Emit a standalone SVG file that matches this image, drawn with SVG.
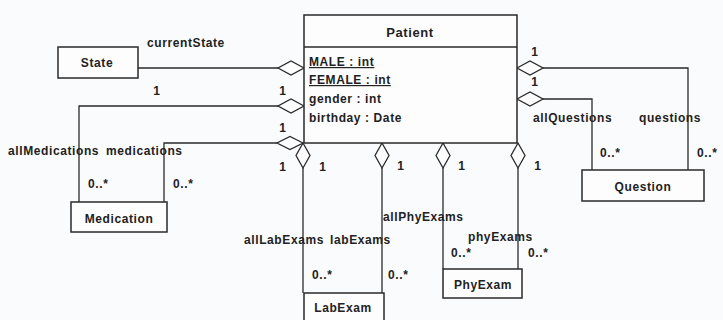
<svg xmlns="http://www.w3.org/2000/svg" width="723" height="320" viewBox="0 0 723 320">
<style>
text{font-family:"Liberation Sans",Arial,sans-serif;font-size:12px;font-weight:bold;fill:#222;letter-spacing:0.6px}
.box{fill:#fdfdfe;stroke:#2a2a2a;stroke-width:1.5}
.ln{fill:none;stroke:#2a2a2a;stroke-width:1.3}
.dia{fill:#fdfdfe;stroke:#2a2a2a;stroke-width:1.3}
.c{text-anchor:middle}
</style>
<rect width="723" height="320" fill="#fafbfc"/>
<g id="connectors">
<path class="ln" d="M138,68 H278"/>
<path class="ln" d="M278,106 H79 V202"/>
<path class="ln" d="M277,143 H164 V202"/>
<path class="ln" d="M303,168 V293"/>
<path class="ln" d="M382,168 V293"/>
<path class="ln" d="M443,168 V269"/>
<path class="ln" d="M518,168 V269"/>
<path class="ln" d="M543,68 H688 V170"/>
<path class="ln" d="M543,99 H592 V170"/>
<polygon class="dia" points="304,68 291,61 278,68 291,75"/>
<polygon class="dia" points="304,106 291,99 278,106 291,113"/>
<polygon class="dia" points="303,143 290,136.5 277,143 290,149.5"/>
<polygon class="dia" points="517,68 530,61 543,68 530,75"/>
<polygon class="dia" points="517,99 530,92 543,99 530,106"/>
<polygon class="dia" points="303,143 310,155.5 303,168 296,155.5"/>
<polygon class="dia" points="382,143 389,155.5 382,168 375,155.5"/>
<polygon class="dia" points="443,143 450,155.5 443,168 436,155.5"/>
<polygon class="dia" points="518,143 525,155.5 518,168 511,155.5"/>
<text x="147" y="47">currentState</text>
<text x="157" y="95" class="c">1</text>
<text x="283" y="95" class="c">1</text>
<text x="283" y="132" class="c">1</text>
<text x="8" y="155">allMedications</text>
<text x="106" y="155">medications</text>
<text x="88" y="188">0..*</text>
<text x="173" y="188">0..*</text>
<text x="283" y="171" class="c">1</text>
<text x="323" y="171" class="c">1</text>
<text x="401" y="170" class="c">1</text>
<text x="462" y="170" class="c">1</text>
<text x="538" y="170" class="c">1</text>
<text x="244" y="244">allLabExams</text>
<text x="330" y="244">labExams</text>
<text x="383" y="221">allPhyExams</text>
<text x="468" y="241">phyExams</text>
<text x="312" y="279">0..*</text>
<text x="388" y="279">0..*</text>
<text x="451" y="257">0..*</text>
<text x="528" y="257">0..*</text>
<text x="535" y="56" class="c">1</text>
<text x="535" y="86" class="c">1</text>
<text x="533" y="122">allQuestions</text>
<text x="639" y="122">questions</text>
<text x="600" y="157">0..*</text>
<text x="697" y="157">0..*</text>
</g>
<g id="Patient">
<rect class="box" x="304" y="15" width="213" height="128"/>
<line class="ln" x1="304" y1="47" x2="517" y2="47"/>
<text x="410" y="37" class="c" style="font-size:13px">Patient</text>
<text x="309" y="66" text-decoration="underline">MALE : int</text>
<text x="309" y="84" text-decoration="underline">FEMALE : int</text>
<text x="309" y="103">gender : int</text>
<text x="309" y="122">birthday : Date</text>
</g>
<g id="State">
<rect class="box" x="58" y="47" width="80" height="31"/>
<text x="97" y="67" class="c">State</text>
</g>
<g id="Medication">
<rect class="box" x="71" y="202" width="96" height="30"/>
<text x="119" y="223" class="c">Medication</text>
</g>
<g id="Question">
<rect class="box" x="582" y="170" width="122" height="31"/>
<text x="643" y="191" class="c">Question</text>
</g>
<g id="LabExam">
<rect class="box" x="304" y="293" width="80" height="40"/>
<text x="343" y="312" class="c">LabExam</text>
</g>
<g id="PhyExam">
<rect class="box" x="443" y="269" width="79" height="29"/>
<text x="483" y="289" class="c">PhyExam</text>
</g>
</svg>
